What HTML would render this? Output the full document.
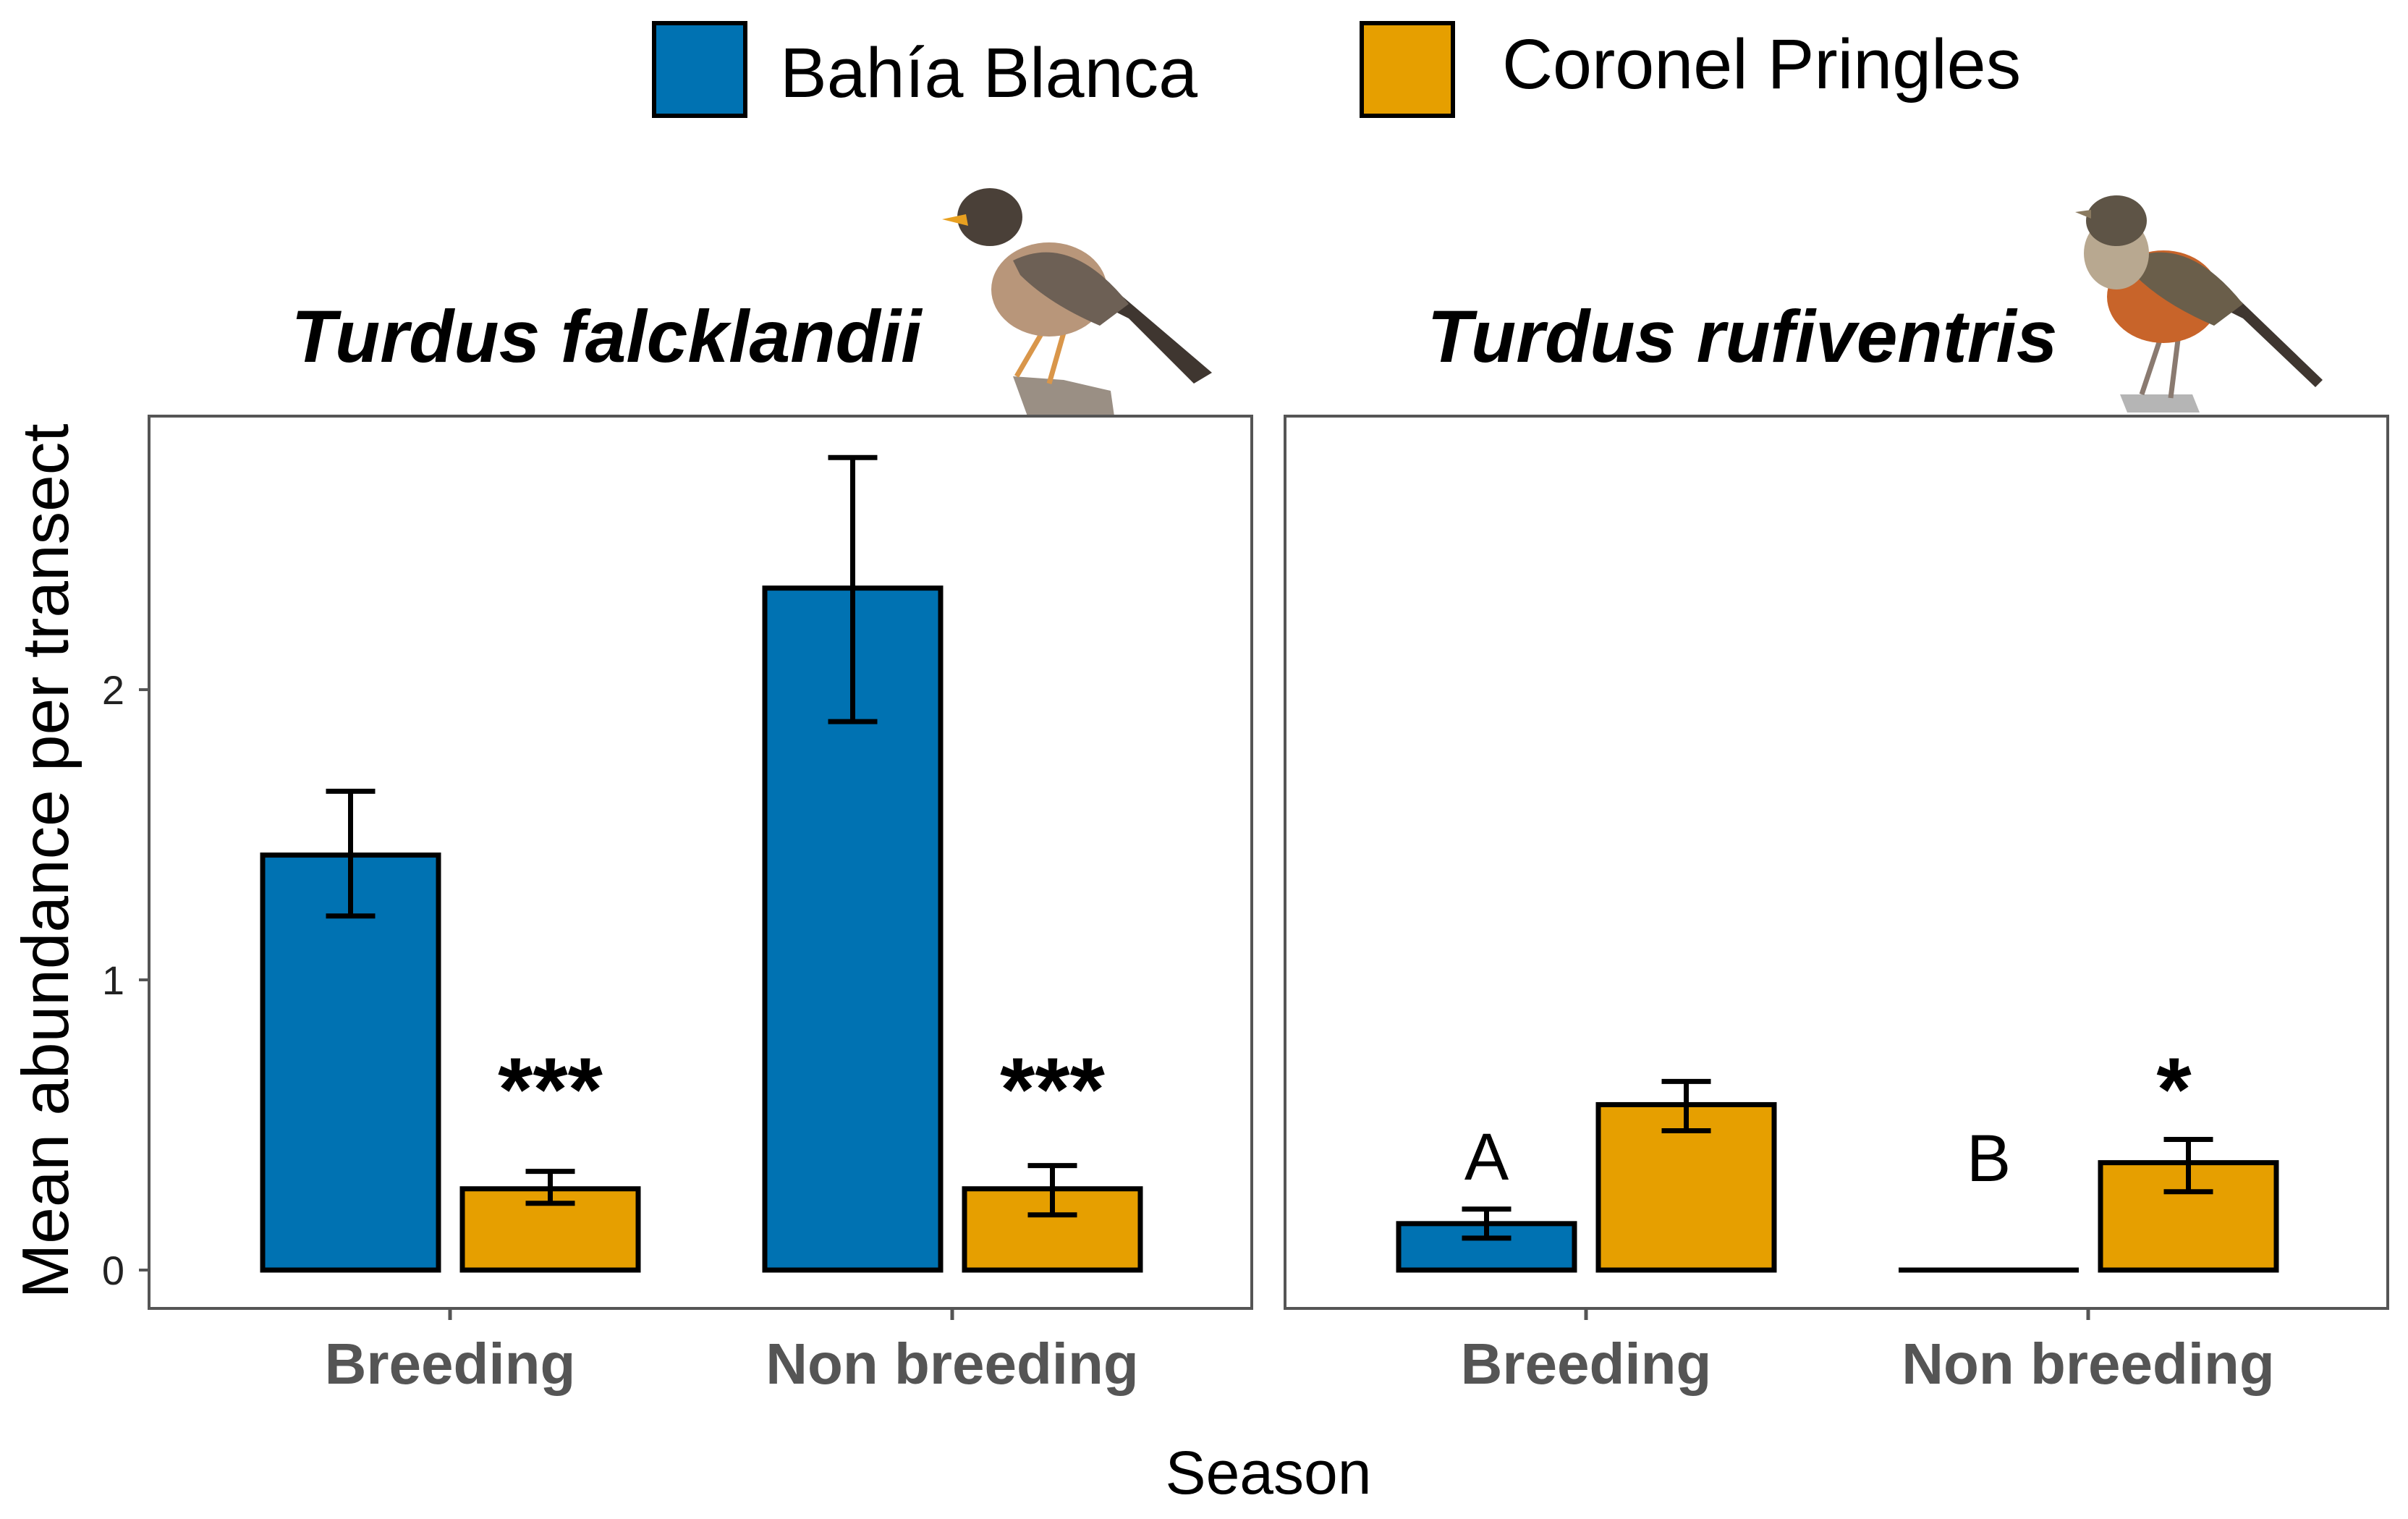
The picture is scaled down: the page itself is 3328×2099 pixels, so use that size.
<!DOCTYPE html>
<html><head><meta charset="utf-8"><style>
html,body{margin:0;padding:0;background:#fff;}
svg{display:block;}
text{font-family:"Liberation Sans",Arial,sans-serif;}
</style></head><body>
<svg id="chart" width="3328" height="2099" viewBox="0 0 3328 2099" xmlns="http://www.w3.org/2000/svg">
<g id="legend">
  <rect x="904" y="32" width="126" height="128" fill="#0072B2" stroke="#000" stroke-width="6"/>
  <text x="1078" y="134" font-size="97" fill="#000">Bahía Blanca</text>
  <rect x="1882" y="32" width="126" height="128" fill="#E69F00" stroke="#000" stroke-width="6"/>
  <text x="2076" y="122" font-size="97" fill="#000">Coronel Pringles</text>
</g>
<g id="bird1">
  <path d="M1400 520 L1420 575 L1540 575 L1535 540 L1470 525 Z" fill="#9a8f84"/>
  <path d="M1440 460 L1405 520 M1470 460 L1450 530" stroke="#d9964a" stroke-width="7" fill="none"/>
  <path d="M1650 530 L1560 440 L1520 420 L1540 400 L1675 515 Z" fill="#3f3630"/>
  <ellipse cx="1450" cy="400" rx="80" ry="65" fill="#b8967a"/>
  <path d="M1400 360 Q1480 320 1560 420 L1520 450 Q1450 420 1410 380 Z" fill="#6d6055"/>
  <ellipse cx="1368" cy="300" rx="45" ry="40" fill="#4a4038"/>
  <path d="M1302 303 L1335 296 L1338 312 Z" fill="#e8a020"/>
</g>
<g id="bird2">
  <path d="M2930 545 L2940 570 L3040 570 L3030 545 Z" fill="#b5b5b5"/>
  <path d="M2985 470 L2960 545 M3010 470 L3000 550" stroke="#8a7a70" stroke-width="7" fill="none"/>
  <path d="M3200 535 L3100 440 L3060 420 L3080 400 L3210 525 Z" fill="#3f3630"/>
  <ellipse cx="2990" cy="410" rx="78" ry="64" fill="#c8642a"/>
  <path d="M2940 360 Q3020 320 3100 420 L3060 450 Q2990 420 2950 380 Z" fill="#6a5e4a"/>
  <ellipse cx="2925" cy="350" rx="45" ry="50" fill="#b8a890"/>
  <ellipse cx="2925" cy="305" rx="42" ry="35" fill="#5e5446"/>
  <path d="M2868 293 L2890 290 L2890 302 Z" fill="#8a7a60"/>
</g>
<g id="plot"></g>
<text x="1753" y="2064" font-size="84" text-anchor="middle" fill="#000">Season</text>
<text transform="translate(94,1190) rotate(-90)" font-size="91" text-anchor="middle" fill="#000">Mean abundance per transect</text>
</svg>
<script>
const seasons = ["Breeding", "Non breeding"];
const panelTitles = ["Turdus falcklandii", "Turdus rufiventris"];
const bahiaMean = [[1.43, 2.35], [0.16, 0.0]];
const bahiaLo = [[1.22, 1.89], [0.11, 0.0]];
const bahiaHi = [[1.65, 2.80], [0.21, 0.0]];
const pringMean = [[0.28, 0.28], [0.57, 0.37]];
const pringLo = [[0.23, 0.19], [0.48, 0.27]];
const pringHi = [[0.34, 0.36], [0.65, 0.45]];
const bahiaLabels = [["", ""], ["A", "B"]];
const pringLabels = [["***", "***"], ["", "*"]];
const yTicks = [0, 1, 2];

const NS = "http://www.w3.org/2000/svg";
const plot = document.getElementById("plot");
const panelLeft = [206, 1776], panelW = 1524, panelTop = 575, panelBottom = 1808;
const y0px = 1755, unitPx = 401;
function yScale(v){ return y0px - v * unitPx; }
function xCenter(p, i){ return panelLeft[p] + 416 + i * 694; }
function mk(tag, attrs, parent){ const e = document.createElementNS(NS, tag); for (const k in attrs) e.setAttribute(k, attrs[k]); (parent||plot).appendChild(e); return e; }

for (let p = 0; p < 2; p++) {
  const g = mk("g", {});
  
  
  const t = mk("text", {x: panelLeft[p] + 632, y: 500, "font-size": 102, "font-weight": "bold", "font-style": "italic", "text-anchor": "middle", fill: "#000"}, g);
  t.textContent = panelTitles[p];
  
  
  if (p === 0) {
    yTicks.forEach(v => {
      const tl = mk("line", {x1: 192, x2: 206, y1: yScale(v), y2: yScale(v), stroke: "#555", "stroke-width": 4}, g);
      
      
      const tx = mk("text", {x: 172, y: yScale(v) + 20, "font-size": 56, "text-anchor": "end", fill: "#222"}, g);
      tx.textContent = v;
      
      
    });
  }
  for (let i = 0; i < 2; i++) {
    const cx = xCenter(p, i);
    const bars = [
      {x: cx - 259, m: bahiaMean[p][i], lo: bahiaLo[p][i], hi: bahiaHi[p][i], c: "#0072B2", lab: bahiaLabels[p][i], n: "bahia-blanca"},
      {x: cx + 17, m: pringMean[p][i], lo: pringLo[p][i], hi: pringHi[p][i], c: "#E69F00", lab: pringLabels[p][i], n: "coronel-pringles"}
    ];
    bars.forEach(b => {
      const top = yScale(b.m);
      let r;
      if (y0px - top < 1) {
        r = mk("line", {x1: b.x - 3, x2: b.x + 246, y1: y0px, y2: y0px, stroke: "#000", "stroke-width": 7}, g);
      } else {
        r = mk("rect", {x: b.x, y: top, width: 243, height: y0px - top, fill: b.c, stroke: "#000", "stroke-width": 7}, g);
      }
      
      
      const bc = b.x + 121.5;
      if (b.hi > b.lo) {
        const eb = mk("path", {d: `M${bc-34} ${yScale(b.hi)} H${bc+34} M${bc} ${yScale(b.hi)} V${yScale(b.lo)} M${bc-34} ${yScale(b.lo)} H${bc+34}`, stroke: "#000", "stroke-width": 7, fill: "none"}, g);
        
        
      }
      if (b.lab) {
        const isStar = b.lab.indexOf("*") >= 0;
        const lt = mk("text", {x: bc + (isStar && b.lab.length === 1 ? -20 : 0), y: isStar ? 1548 : (b.lab === "A" ? 1630 : 1632), "font-size": isStar ? 124 : 92, "font-weight": isStar ? "bold" : "normal", "text-anchor": "middle", fill: "#000"}, g);
        lt.textContent = b.lab;
        
        
      }
    });
    const xt = mk("line", {x1: cx, x2: cx, y1: panelBottom, y2: panelBottom + 16, stroke: "#555", "stroke-width": 5}, g);
    
    
    const xl = mk("text", {x: cx, y: 1912, "font-size": 80, "font-weight": "bold", "text-anchor": "middle", fill: "#555"}, g);
    xl.textContent = seasons[i];
    
    
  }
  const fr = mk("rect", {x: panelLeft[p], y: panelTop, width: panelW, height: panelBottom - panelTop, fill: "none", stroke: "#555", "stroke-width": 4}, g);
  
  
}
</script>
</body></html>
